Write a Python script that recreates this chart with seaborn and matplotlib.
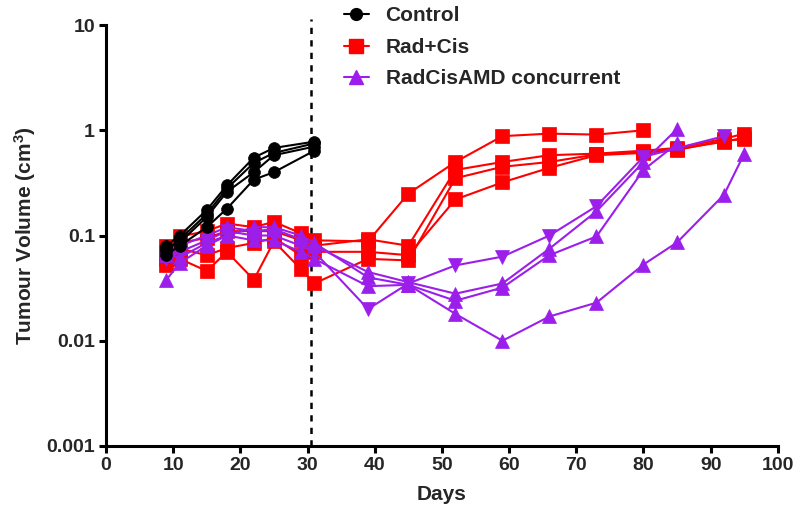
import numpy as np
import pandas as pd
import matplotlib
matplotlib.use("Agg")
import matplotlib.pyplot as plt
import seaborn as sns
from matplotlib.lines import Line2D

sns.set_theme(style="white")
plt.rcParams['font.family'] = ['Liberation Sans', 'DejaVu Sans']
plt.rcParams['font.weight'] = 'bold'
plt.rcParams['mathtext.fontset'] = 'custom'
plt.rcParams['mathtext.bf'] = 'Liberation Sans:bold'

# ---- data (days, tumour volume cm^3) ----
control_days = [9, 11, 15, 18, 22, 25, 31]
control_m1 = [0.080, 0.100, 0.175, 0.30, 0.55, 0.68, 0.78]
control_m2 = [0.072, 0.092, 0.160, 0.28, 0.49, 0.61, 0.75]
control_m3 = [0.076, 0.086, 0.150, 0.26, 0.40, 0.58, 0.70]
control_m4 = [0.066, 0.080, 0.120, 0.18, 0.34, 0.40, 0.64]

rad_days_a = [9, 11, 15, 18, 22, 25, 29, 31, 39, 45, 52, 59, 66, 73, 80]
rad_m1 = [0.080, 0.098, 0.110, 0.130, 0.120, 0.135, 0.105, 0.090, 0.088, 0.25, 0.50, 0.88, 0.93, 0.91, 1.00]
rad_days_b = [9, 11, 15, 18, 22, 25, 29, 31, 39, 45, 52, 59, 66, 73, 80, 85, 92, 95]
rad_m2 = [0.060, 0.085, 0.095, 0.110, 0.110, 0.110, 0.090, 0.080, 0.092, 0.080, 0.42, 0.50, 0.58, 0.60, 0.64, 0.68, 0.83, 0.93]
rad_m3 = [0.070, 0.060, 0.046, 0.070, 0.038, 0.088, 0.048, 0.035, 0.060, 0.058, 0.35, 0.45, 0.50, 0.59, 0.62, 0.66, 0.78, 0.85]
rad_m4 = [0.052, 0.075, 0.065, 0.076, 0.085, 0.095, 0.065, 0.070, 0.070, 0.065, 0.22, 0.32, 0.44, 0.58, 0.61, 0.65, 0.80, 0.82]

amd_days_a = [9, 11, 15, 18, 22, 25, 29, 31, 39, 45, 52, 59, 66, 73, 80, 92]
amd_m1 = [0.060, 0.070, 0.090, 0.110, 0.100, 0.100, 0.080, 0.070, 0.020, 0.035, 0.052, 0.063, 0.100, 0.190, 0.56, 0.88]
amd_days_b = [9, 11, 15, 18, 22, 25, 29, 31, 39, 45, 52, 59, 66, 73, 80, 85]
amd_m2 = [0.072, 0.080, 0.100, 0.120, 0.110, 0.115, 0.092, 0.080, 0.045, 0.036, 0.028, 0.035, 0.075, 0.170, 0.50, 1.03]
amd_m3 = [0.065, 0.062, 0.085, 0.100, 0.120, 0.120, 0.100, 0.085, 0.040, 0.034, 0.024, 0.032, 0.065, 0.098, 0.42, 0.75]
amd_days_c = [9, 11, 15, 18, 22, 25, 29, 31, 39, 45, 52, 59, 66, 73, 80, 85, 92, 95]
amd_m4 = [0.038, 0.055, 0.080, 0.100, 0.090, 0.090, 0.070, 0.060, 0.033, 0.034, 0.018, 0.010, 0.017, 0.023, 0.053, 0.086, 0.245, 0.60]

treatment_day = 30.5
labels = ["Control", "Rad+Cis", "RadCisAMD concurrent"]
ytick_vals = [0.001, 0.01, 0.1, 1, 10]
ytick_labels = ["0.001", "0.01", "0.1", "1", "10"]
xtick_vals = list(range(0, 101, 10))

BLACK = "#000000"
RED = "#FF0000"
PURPLE = "#9B1EEB"

CS, SS, TS = 8.5, 9.5, 10
mice = [
    ("Control", control_days, control_m1, BLACK, "o", CS),
    ("Control", control_days, control_m2, BLACK, "o", CS),
    ("Control", control_days, control_m3, BLACK, "o", CS),
    ("Control", control_days, control_m4, BLACK, "o", CS),
    ("Rad+Cis", rad_days_a, rad_m1, RED, "s", SS),
    ("Rad+Cis", rad_days_b, rad_m2, RED, "s", SS),
    ("Rad+Cis", rad_days_b, rad_m3, RED, "s", SS),
    ("Rad+Cis", rad_days_b, rad_m4, RED, "s", SS),
    ("RadCisAMD concurrent", amd_days_a, amd_m1, PURPLE, "v", TS),
    ("RadCisAMD concurrent", amd_days_b, amd_m2, PURPLE, "^", TS),
    ("RadCisAMD concurrent", amd_days_b, amd_m3, PURPLE, "^", TS),
    ("RadCisAMD concurrent", amd_days_c, amd_m4, PURPLE, "^", TS),
]

fig = plt.figure(figsize=(7.97, 5.12), dpi=100)
ax = fig.add_axes([0.133, 0.129, 0.843, 0.822])

ax.plot([treatment_day, treatment_day], [0.001, 11.5], ls=(0, (2.5, 2.5)), color="black",
        lw=1.8, zorder=1, clip_on=False)

for grp, d, v, col, mk, ms in mice:
    df = pd.DataFrame({"Days": d, "Volume": v})
    sns.lineplot(data=df, x="Days", y="Volume", ax=ax, color=col, marker=mk,
                 markersize=ms, markeredgecolor=col, markeredgewidth=0.5,
                 linewidth=1.5, estimator=None, zorder=3 if grp != "Control" else 4)

ax.set_yscale("log")
ax.set_ylim(0.001, 10)
ax.set_xlim(0, 100)
ax.set_yticks(ytick_vals)
ax.set_yticklabels(ytick_labels)
ax.set_xticks(xtick_vals)
ax.yaxis.set_minor_locator(matplotlib.ticker.NullLocator())

for s in ["top", "right"]:
    ax.spines[s].set_visible(False)
for s in ["left", "bottom"]:
    ax.spines[s].set_linewidth(2.2)
    ax.spines[s].set_color("black")
ax.tick_params(axis="both", which="major", direction="out", length=5, width=2.2,
               labelsize=14, color="black", pad=3, bottom=True, left=True)
for t in ax.get_xticklabels() + ax.get_yticklabels():
    t.set_fontweight("bold")

ax.set_xlabel("Days", fontsize=15, fontweight="bold", labelpad=8)
ax.set_ylabel("Tumour Volume (cm$\\mathbf{^3}$)", fontsize=15, fontweight="bold", labelpad=6)
ax.grid(False)

handles = [
    Line2D([], [], color=BLACK, marker="o", markersize=CS, lw=1.5),
    Line2D([], [], color=RED, marker="s", markersize=SS, lw=1.5),
    Line2D([], [], color=PURPLE, marker="^", markersize=TS, lw=1.5),
]
leg = fig.legend(handles, labels, loc="upper left", bbox_to_anchor=(0.408, 1.024),
                 bbox_transform=fig.transFigure,
                 frameon=False, prop={"weight": "bold", "size": 15},
                 handlelength=1.2, handletextpad=0.8, labelspacing=0.6)

fig.savefig("out.png", dpi=100)
